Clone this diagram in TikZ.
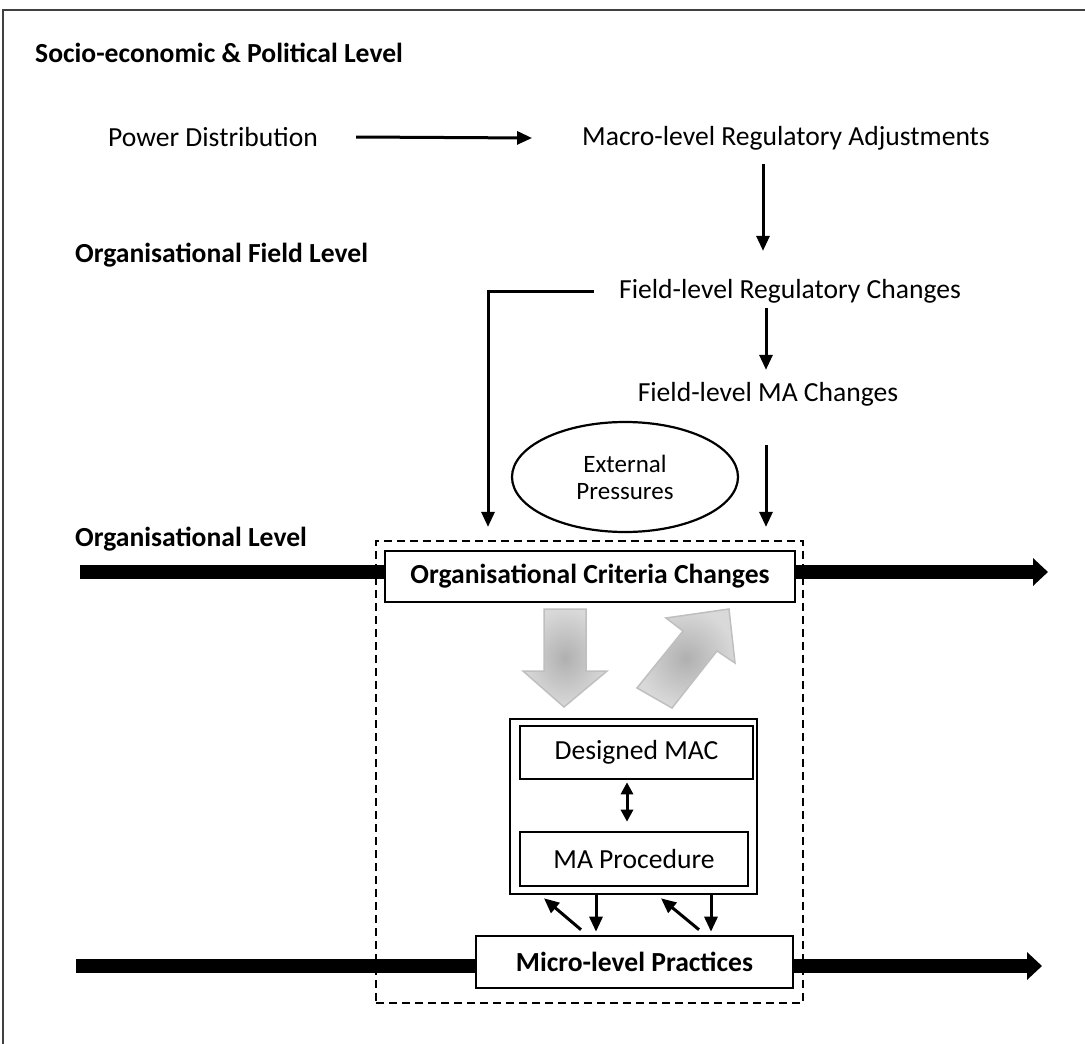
\documentclass[tikz,border=0pt]{standalone}
\usepackage{fontspec}
\setmainfont{Carlito}
\usetikzlibrary{arrows.meta,shapes.geometric}
\begin{document}
\begin{tikzpicture}[x=1pt,y=1pt,
  every node/.style={font=\fontsize{27.6pt}{33pt}\selectfont},
  txt/.style={inner sep=0pt},
  hdr/.style={inner sep=0pt,anchor=west,font=\fontsize{27.6pt}{33pt}\selectfont\bfseries},
  arr/.style={line width=3pt,-{Triangle[length=15pt,width=13pt]}},
  dbl/.style={line width=3pt,{Triangle[length=12pt,width=12pt]}-{Triangle[length=12pt,width=12pt]}},
  bar/.style={line width=14pt},
  bararr/.style={line width=14pt,-{Triangle[length=15pt,width=27pt]}},
  box/.style={draw,line width=2.6pt,inner sep=0pt},
  bigarrow/.style={draw=gray!50,line width=1.5pt,inner color=gray!62,outer color=gray!30}
]
\useasboundingbox (0,0) rectangle (1085,-1044);
% outer frame
\draw[line width=1.2pt,black!75] (3,-1044) -- (3,-10) -- (1085,-10);

% level headings
\node[hdr] (lvlA) at (35,-53) {Socio-economic \& Political Level};
\node[hdr] (lvlB) at (75,-255) {Organisational Field Level};
\node[hdr] (lvlC) at (75,-539) {Organisational Level};

% top chain
\node[txt,anchor=west] (pd) at (108,-137) {Power Distribution};
\node[txt] (macro) at (786,-138) {Macro-level Regulatory Adjustments};
\node[txt] (flr) at (790,-291) {Field-level Regulatory Changes};
\node[txt] (fma) at (768,-394) {Field-level MA Changes};
\node[draw,ellipse,line width=2.2pt,minimum width=226pt,minimum height=110pt,inner sep=0pt,align=center,
      font=\fontsize{25pt}{27pt}\selectfont] (ext) at (625,-477) {External\\Pressures};

% organisational frame
\node[draw,dashed,dash pattern=on 8pt off 5pt,line width=2.2pt,minimum width=427pt,minimum height=462pt,inner sep=0pt] (dash) at (589.5,-772) {};
\node[box,minimum width=410pt,minimum height=51pt,font=\fontsize{27.6pt}{33pt}\selectfont\bfseries] (occ) at (590,-576.5) {Organisational Criteria Changes};
\node[box,minimum width=247pt,minimum height=175pt] (outer) at (633.5,-806.5) {};
\node[box,minimum width=233pt,minimum height=53pt] (dmac) at (636.5,-752.5) {Designed MAC};
\node[box,minimum width=228pt,minimum height=54pt] (map) at (634,-859) {MA Procedure};
\node[box,minimum width=317pt,minimum height=52pt,font=\fontsize{27.6pt}{33pt}\selectfont\bfseries] (micro) at (634.5,-962) {Micro-level Practices};

% shaded influence arrows
\path[bigarrow] (544,-609) -- (586,-609) -- (586,-671) -- (607,-671) -- (564,-707) -- (523,-671) -- (544,-671) -- cycle;
\path[bigarrow] (637,-688) -- (683,-631) -- (666,-618) -- (729,-609) -- (735,-663) -- (717,-651) -- (672,-708) -- cycle;

% connectors
\draw[arr] ([xshift=38pt]pd.east) -- ([xshift=-50pt]macro.west);
\draw[arr] ([xshift=-23pt,yshift=-14pt]macro.south) -- ([xshift=-27pt,yshift=28pt]flr.north);
\draw[arr] ([xshift=-24pt,yshift=-5pt]flr.south) -- ([xshift=-2pt,yshift=12pt]fma.north);
\draw[arr] ([xshift=-2pt,yshift=-39pt]fma.south) -- ([xshift=176.5pt,yshift=13pt]dash.north);
\draw[arr] ([xshift=-25pt]flr.west) -| ([xshift=-101.5pt,yshift=13pt]dash.north);
\draw[dbl] ([xshift=-9.5pt,yshift=-2pt]dmac.south) -- ([xshift=-7pt,yshift=9pt]map.north);
\draw[arr] ([xshift=-37.5pt]outer.south) -- ([xshift=-38.5pt,yshift=3pt]micro.north);
\draw[arr] ([xshift=77.5pt]outer.south) -- ([xshift=76.5pt,yshift=3pt]micro.north);
\draw[arr] ([xshift=-53.5pt,yshift=5pt]micro.north) -- ([xshift=-89.5pt,yshift=-3pt]outer.south);
\draw[arr] ([xshift=64.5pt,yshift=5pt]micro.north) -- ([xshift=27.5pt,yshift=-3pt]outer.south);

% timeline bars
\coordinate (barAin) at (80,-572);
\coordinate (barAout) at (1048,-572);
\coordinate (barBin) at (76,-966);
\coordinate (barBout) at (1042,-966);
\draw[bar] (barAin) -- (barAin -| occ.west);
\draw[bararr] (barAout -| occ.east) -- (barAout);
\draw[bar] (barBin) -- (barBin -| micro.west);
\draw[bararr] (barBout -| micro.east) -- (barBout);
\end{tikzpicture}
\end{document}
